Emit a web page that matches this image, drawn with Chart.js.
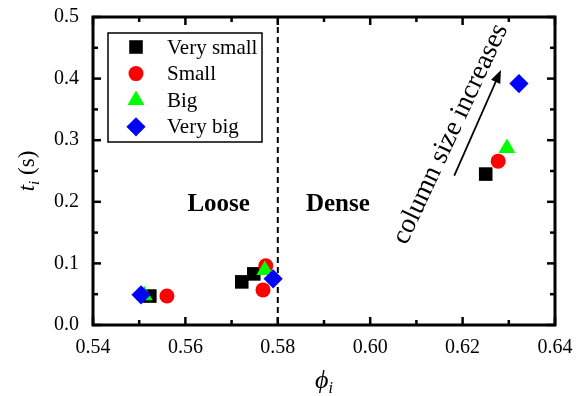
<!DOCTYPE html>
<html>
<head>
<meta charset="utf-8">
<script src="https://cdn.jsdelivr.net/npm/chart.js@4.4.1/dist/chart.umd.min.js"></script>
<style>
  body { margin: 0; background: #fff; }
  #wrap { width: 576px; height: 396px; }
</style>
</head>
<body>
<div id="wrap"><canvas id="phiChart" width="576" height="396"></canvas></div>
<script>
// column-size series: packing fraction phi_i vs time t_i (s)
const seriesNames = ['Very small', 'Small', 'Big', 'Very big'];

const phiVerySmall = [0.5523, 0.5722, 0.5748, 0.6250];
const tVerySmall   = [0.047, 0.070, 0.083, 0.245];
const phiSmall     = [0.5560, 0.5768, 0.5774, 0.6277];
const tSmall       = [0.047, 0.057, 0.096, 0.266];
const phiBig       = [0.5511, 0.5772, 0.6296];
const tBig         = [0.048, 0.089, 0.287];
const phiVeryBig   = [0.5504, 0.5790, 0.6322];
const tVeryBig     = [0.049, 0.075, 0.392];

const xTicks = [0.54, 0.56, 0.58, 0.60, 0.62, 0.64];
const yTicks = [0.0, 0.1, 0.2, 0.3, 0.4, 0.5];
const dividerPhi = 0.58;
const arrowFrom = {x: 0.6182, y: 0.2424};
const arrowTo = {x: 0.6283, y: 0.414};

const SERIF = "'Liberation Serif', 'Times New Roman', serif";
Chart.defaults.font.family = SERIF;
Chart.defaults.color = '#000';

const toPoints = (xs, ys) => xs.map((v, i) => ({x: v, y: ys[i]}));

const datasets = [
  {label: seriesNames[0], data: toPoints(phiVerySmall, tVerySmall), pointStyle: 'rect', pointRadius: 9.6, backgroundColor: '#000000', order: 3},
  {label: seriesNames[1], data: toPoints(phiSmall, tSmall), pointStyle: 'circle', pointRadius: 7.5, backgroundColor: '#ff0000', order: 2},
  {label: seriesNames[2], data: toPoints(phiBig, tBig), pointStyle: 'triangle', pointRadius: 9.8, backgroundColor: '#00ff00', order: 1},
  {label: seriesNames[3], data: toPoints(phiVeryBig, tVeryBig), pointStyle: 'rectRot', pointRadius: 9.6, backgroundColor: '#0000ff', order: 0}
];
datasets.forEach(d => { d.borderWidth = 0; d.borderColor = d.backgroundColor; d.showLine = false; });

function line(ctx, x1, y1, x2, y2) {
  ctx.beginPath();
  ctx.moveTo(x1, y1);
  ctx.lineTo(x2, y2);
  ctx.stroke();
}

// frame with inward ticks on all four sides, plus the dashed loose/dense divider
const frameTicks = {
  id: 'frameTicks',
  beforeDatasetsDraw(chart) {
    const {ctx, chartArea: a, scales: {x, y}} = chart;
    ctx.save();
    ctx.strokeStyle = '#000';

    ctx.lineWidth = 2;
    ctx.setLineDash([6, 4]);
    const xd = x.getPixelForValue(dividerPhi);
    line(ctx, xd, a.top, xd, a.bottom);
    ctx.setLineDash([]);

    ctx.lineWidth = 2.5;
    for (let i = 0; i <= 10; i++) {
      const px = x.getPixelForValue(0.54 + i * 0.01);
      const len = i % 2 === 0 ? 8 : 5;
      line(ctx, px, a.bottom, px, a.bottom - len);
      line(ctx, px, a.top, px, a.top + len);
    }
    for (let i = 0; i <= 10; i++) {
      const py = y.getPixelForValue(i * 0.05);
      const len = i % 2 === 0 ? 8 : 5;
      line(ctx, a.left, py, a.left + len, py);
      line(ctx, a.right, py, a.right - len, py);
    }
    ctx.lineWidth = 3;
    ctx.strokeRect(a.left, a.top, a.right - a.left, a.bottom - a.top);
    ctx.restore();
  }
};

// annotations, legend box and axis titles
const overlay = {
  id: 'overlay',
  afterDatasetsDraw(chart) {
    const {ctx, chartArea: a, scales: {x, y}} = chart;
    ctx.save();
    ctx.fillStyle = '#000';
    ctx.strokeStyle = '#000';

    // region labels
    ctx.font = 'bold 25px ' + SERIF;
    ctx.textAlign = 'center';
    ctx.textBaseline = 'middle';
    ctx.fillText('Loose', x.getPixelForValue(0.5672), y.getPixelForValue(0.195));
    ctx.fillText('Dense', x.getPixelForValue(0.5930), y.getPixelForValue(0.195));

    // arrow
    const x1 = x.getPixelForValue(arrowFrom.x), y1 = y.getPixelForValue(arrowFrom.y);
    const x2 = x.getPixelForValue(arrowTo.x), y2 = y.getPixelForValue(arrowTo.y);
    const ang = Math.atan2(y2 - y1, x2 - x1);
    const head = 13, hw = 5;
    ctx.lineWidth = 1.8;
    line(ctx, x1, y1, x2 - Math.cos(ang) * head * 0.8, y2 - Math.sin(ang) * head * 0.8);
    ctx.beginPath();
    ctx.moveTo(x2, y2);
    ctx.lineTo(x2 - Math.cos(ang) * head - Math.sin(ang) * hw, y2 - Math.sin(ang) * head + Math.cos(ang) * hw);
    ctx.lineTo(x2 - Math.cos(ang) * head + Math.sin(ang) * hw, y2 - Math.sin(ang) * head - Math.cos(ang) * hw);
    ctx.closePath();
    ctx.fill();

    // rotated note
    ctx.save();
    ctx.translate(x.getPixelForValue(0.6174), y.getPixelForValue(0.310));
    ctx.rotate(-65 * Math.PI / 180);
    ctx.font = '27.5px ' + SERIF;
    ctx.fillText('column size increases', 0, 0);
    ctx.restore();

    // legend
    const lx = 108, ly = 33, lw = 154, lh = 109;
    ctx.fillStyle = '#fff';
    ctx.fillRect(lx, ly, lw, lh);
    ctx.lineWidth = 1.5;
    ctx.strokeRect(lx, ly, lw, lh);
    ctx.font = '21px ' + SERIF;
    ctx.textAlign = 'left';
    chart.data.datasets.forEach((d, i) => {
      const cy = ly + 14 + i * 26.6;
      ctx.fillStyle = d.backgroundColor;
      Chart.helpers.drawPoint(ctx, {pointStyle: d.pointStyle, radius: d.pointRadius, rotation: 0, borderWidth: 0}, lx + 28, cy);
      ctx.fillStyle = '#000';
      ctx.fillText(d.label, lx + 59, cy + 1);
    });

    // y title: t_i (s)
    ctx.save();
    ctx.translate(26, (a.top + a.bottom) / 2);
    ctx.rotate(-Math.PI / 2);
    ctx.textAlign = 'left';
    ctx.textBaseline = 'alphabetic';
    const fT = 'italic 23px ' + SERIF, fSub = 'italic 15px ' + SERIF, fS = '23px ' + SERIF;
    ctx.font = fT; const wT = ctx.measureText('t').width;
    ctx.font = fSub; const wI = ctx.measureText('i').width;
    ctx.font = fS; const wS = ctx.measureText(' (s)').width;
    let sx = -(wT + wI + wS) / 2;
    ctx.font = fT; ctx.fillText('t', sx, 8); sx += wT;
    ctx.font = fSub; ctx.fillText('i', sx, 13); sx += wI;
    ctx.font = fS; ctx.fillText(' (s)', sx, 8);
    ctx.restore();

    // x title: phi_i
    ctx.textAlign = 'left';
    ctx.textBaseline = 'alphabetic';
    ctx.font = 'italic 26px ' + SERIF;
    const wPhi = ctx.measureText('\u03d5').width;
    ctx.font = 'italic 16px ' + SERIF;
    const wSub = ctx.measureText('i').width;
    let tx = (a.left + a.right) / 2 - (wPhi + wSub) / 2;
    ctx.font = 'italic 26px ' + SERIF;
    ctx.fillText('\u03d5', tx, 388);
    ctx.font = 'italic 16px ' + SERIF;
    ctx.fillText('i', tx + wPhi, 393);

    ctx.restore();
  }
};

new Chart(document.getElementById('phiChart'), {
  type: 'scatter',
  data: {datasets: datasets},
  options: {
    responsive: false,
    animation: false,
    events: [],
    layout: {padding: {top: 17, right: 21, left: 0, bottom: 0}},
    plugins: {legend: {display: false}, tooltip: {enabled: false}},
    scales: {
      x: {
        type: 'linear',
        min: xTicks[0],
        max: xTicks[xTicks.length - 1],
        afterFit: s => { s.height = 71; s.paddingLeft = 0; s.paddingRight = 0; },
        afterBuildTicks: s => { s.ticks = xTicks.map(v => ({value: v})); },
        grid: {display: false, drawTicks: false},
        border: {display: false},
        ticks: {
          padding: 11,
          color: '#000',
          maxRotation: 0,
          autoSkip: false,
          font: {family: SERIF, size: 20},
          callback: v => v.toFixed(2)
        }
      },
      y: {
        type: 'linear',
        min: yTicks[0],
        max: yTicks[yTicks.length - 1],
        afterFit: s => { s.width = 93; s.paddingTop = 0; s.paddingBottom = 0; },
        afterBuildTicks: s => { s.ticks = yTicks.map(v => ({value: v})); },
        grid: {display: false, drawTicks: false},
        border: {display: false},
        ticks: {
          padding: 14,
          color: '#000',
          autoSkip: false,
          font: {family: SERIF, size: 20},
          callback: v => v.toFixed(1)
        }
      }
    }
  },
  plugins: [frameTicks, overlay]
});
</script>
</body>
</html>
